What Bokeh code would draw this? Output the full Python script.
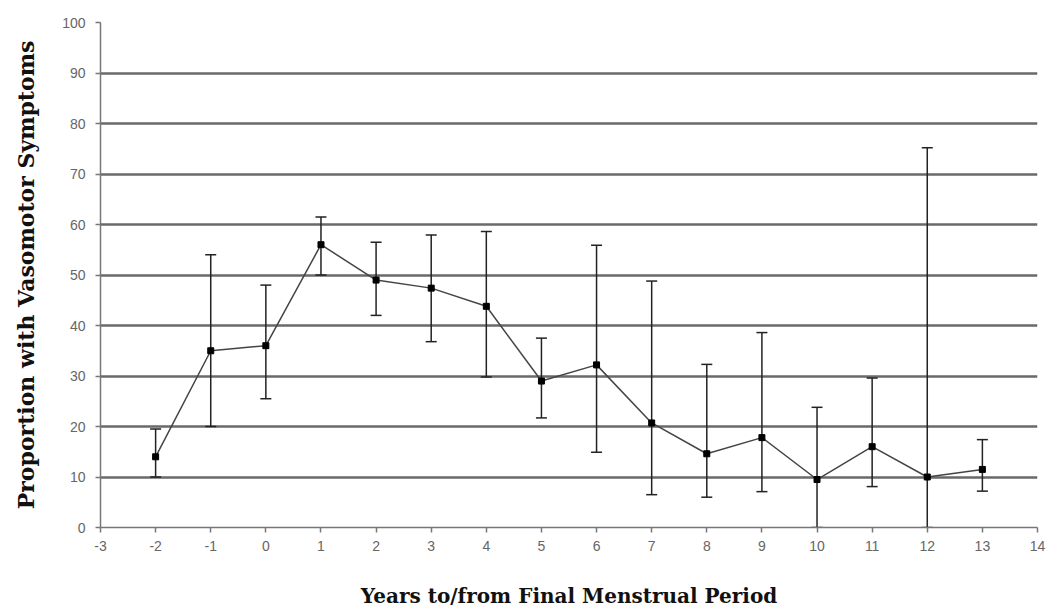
from bokeh.plotting import figure
from bokeh.models import ColumnDataSource, Whisker, TeeHead, FixedTicker, Range1d
from bokeh.embed import file_html
from bokeh.resources import INLINE

years = [-2, -1, 0, 1, 2, 3, 4, 5, 6, 7, 8, 9, 10, 11, 12, 13]
proportion = [14, 35, 36, 56, 49, 47.4, 43.8, 29, 32.2, 20.7, 14.6, 17.8, 9.5, 16, 10, 11.5]
lower = [10, 20, 25.5, 50, 42, 36.8, 29.8, 21.7, 14.9, 6.5, 6.0, 7.1, 0, 8.1, 0, 7.2]
upper = [19.5, 54, 48, 61.5, 56.5, 57.9, 58.6, 37.5, 55.9, 48.8, 32.3, 38.6, 23.8, 29.6, 75.2, 17.4]
x_ticks = list(range(-3, 15))
y_ticks = list(range(0, 101, 10))

src = ColumnDataSource(dict(x=years, y=proportion, lo=lower, hi=upper))

p = figure(width=1046, height=610, output_backend="svg", toolbar_location=None,
           x_range=Range1d(-3, 14), y_range=Range1d(0, 100),
           min_border_left=100, min_border_right=9, min_border_top=22, min_border_bottom=82)
p.outline_line_color = None
p.background_fill_color = "white"

# grid
p.xgrid.grid_line_color = None
p.ygrid.grid_line_color = "#6a6a6a"
p.ygrid.grid_line_width = 2.5
p.ygrid.ticker = FixedTicker(ticks=y_ticks)

for ax in (p.xaxis[0], p.yaxis[0]):
    ax.axis_line_color = "#777777"
    ax.axis_line_width = 1.5
    ax.major_tick_line_color = "#777777"
    ax.major_tick_line_width = 1.5
    ax.major_tick_out = 5
    ax.major_tick_in = 0
    ax.minor_tick_line_color = None
    ax.major_label_text_font = "Liberation Sans"
    ax.major_label_text_font_size = "14px"
    ax.major_label_text_color = "#666666"
    ax.axis_label_text_font = "DejaVu Serif"
    ax.axis_label_text_font_style = "bold"
    ax.axis_label_text_color = "#111111"

p.xaxis.ticker = FixedTicker(ticks=x_ticks)
p.yaxis.ticker = FixedTicker(ticks=y_ticks)
p.xaxis.major_label_overrides = {t: str(t) for t in x_ticks}
p.xaxis.major_label_standoff = 8
p.yaxis.major_label_standoff = 10
p.xaxis.axis_label = "Years to/from Final Menstrual Period"
p.yaxis.axis_label = "Proportion with Vasomotor Symptoms"
p.xaxis.axis_label_text_font_size = "20px"
p.yaxis.axis_label_text_font_size = "22px"
p.xaxis.axis_label_standoff = 30
p.yaxis.axis_label_standoff = 20

w = Whisker(source=src, base="x", lower="lo", upper="hi", dimension="height",
            line_color="#222222", line_width=1.5,
            upper_head=TeeHead(size=11, line_color="#222222", line_width=1.5),
            lower_head=TeeHead(size=11, line_color="#222222", line_width=1.5))
p.add_layout(w)

p.line("x", "y", source=src, line_color="#444444", line_width=1.5)
p.scatter("x", "y", source=src, marker="square", size=6, fill_color="black", line_color="black")

open("out.html", "w").write(file_html(p, INLINE))
